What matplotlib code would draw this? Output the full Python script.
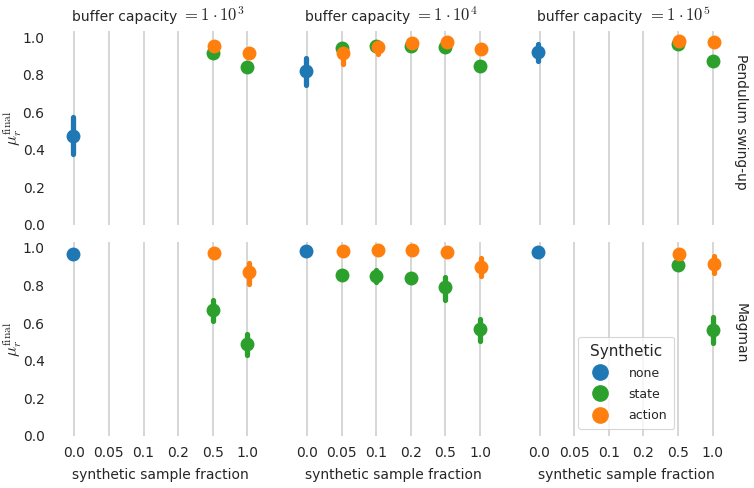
import numpy as np
import matplotlib
matplotlib.use("Agg")
import matplotlib.pyplot as plt
from matplotlib.lines import Line2D

nan = np.nan

fractions = ["0.0", "0.05", "0.1", "0.2", "0.5", "1.0"]
buffers = [3, 4, 5]
envs = ["Pendulum swing-up", "Magman"]
hues = ["none", "state", "action"]
colors = {"none": "#1f77b4", "state": "#2ca02c", "action": "#ff7f0e"}

# rows: buffer 1e3, 1e4, 1e5 ; columns: fractions
pend_none = [[0.473, nan, nan, nan, nan, nan],
             [0.821, nan, nan, nan, nan, nan],
             [0.922, nan, nan, nan, nan, nan]]
pend_none_lo = [[0.375, nan, nan, nan, nan, nan],
                [0.745, nan, nan, nan, nan, nan],
                [0.870, nan, nan, nan, nan, nan]]
pend_none_hi = [[0.572, nan, nan, nan, nan, nan],
                [0.890, nan, nan, nan, nan, nan],
                [0.963, nan, nan, nan, nan, nan]]

pend_state = [[nan, nan, nan, nan, 0.913, 0.842],
              [nan, 0.940, 0.954, 0.952, 0.945, 0.847],
              [nan, nan, nan, nan, 0.963, 0.874]]
pend_state_lo = [[nan, nan, nan, nan, 0.900, 0.830],
                 [nan, 0.925, 0.940, 0.940, 0.930, 0.835],
                 [nan, nan, nan, nan, 0.950, 0.862]]
pend_state_hi = [[nan, nan, nan, nan, 0.925, 0.855],
                 [nan, 0.955, 0.965, 0.962, 0.958, 0.858],
                 [nan, nan, nan, nan, 0.975, 0.885]]

pend_action = [[nan, nan, nan, nan, 0.952, 0.913],
               [nan, 0.913, 0.947, 0.970, 0.973, 0.934],
               [nan, nan, nan, nan, 0.980, 0.972]]
pend_action_lo = [[nan, nan, nan, nan, 0.940, 0.900],
                  [nan, 0.855, 0.910, 0.958, 0.962, 0.922],
                  [nan, nan, nan, nan, 0.970, 0.962]]
pend_action_hi = [[nan, nan, nan, nan, 0.962, 0.925],
                  [nan, 0.950, 0.970, 0.980, 0.983, 0.945],
                  [nan, nan, nan, nan, 0.988, 0.982]]

mag_none = [[0.968, nan, nan, nan, nan, nan],
            [0.982, nan, nan, nan, nan, nan],
            [0.977, nan, nan, nan, nan, nan]]
mag_none_lo = [[0.960, nan, nan, nan, nan, nan],
               [0.975, nan, nan, nan, nan, nan],
               [0.970, nan, nan, nan, nan, nan]]
mag_none_hi = [[0.976, nan, nan, nan, nan, nan],
               [0.989, nan, nan, nan, nan, nan],
               [0.984, nan, nan, nan, nan, nan]]

mag_state = [[nan, nan, nan, nan, 0.670, 0.489],
             [nan, 0.858, 0.853, 0.840, 0.791, 0.569],
             [nan, nan, nan, nan, 0.911, 0.565]]
mag_state_lo = [[nan, nan, nan, nan, 0.610, 0.430],
                [nan, 0.835, 0.820, 0.820, 0.725, 0.507],
                [nan, nan, nan, nan, 0.895, 0.495]]
mag_state_hi = [[nan, nan, nan, nan, 0.725, 0.544],
                [nan, 0.878, 0.880, 0.858, 0.844, 0.624],
                [nan, nan, nan, nan, 0.925, 0.633]]

mag_action = [[nan, nan, nan, nan, 0.975, 0.871],
              [nan, 0.982, 0.991, 0.988, 0.979, 0.897],
              [nan, nan, nan, nan, 0.970, 0.917]]
mag_action_lo = [[nan, nan, nan, nan, 0.965, 0.810],
                 [nan, 0.972, 0.982, 0.978, 0.968, 0.850],
                 [nan, nan, nan, nan, 0.960, 0.867]]
mag_action_hi = [[nan, nan, nan, nan, 0.985, 0.920],
                 [nan, 0.990, 0.998, 0.996, 0.988, 0.947],
                 [nan, nan, nan, nan, 0.980, 0.956]]

data = {
    "Pendulum swing-up": {
        "none": (pend_none, pend_none_lo, pend_none_hi),
        "state": (pend_state, pend_state_lo, pend_state_hi),
        "action": (pend_action, pend_action_lo, pend_action_hi),
    },
    "Magman": {
        "none": (mag_none, mag_none_lo, mag_none_hi),
        "state": (mag_state, mag_state_lo, mag_state_hi),
        "action": (mag_action, mag_action_lo, mag_action_hi),
    },
}

plt.rcParams["mathtext.fontset"] = "cm"
plt.rcParams["font.family"] = "DejaVu Sans"
text_c = "#262626"
plt.rcParams["text.color"] = text_c
plt.rcParams["axes.labelcolor"] = text_c
plt.rcParams["xtick.color"] = text_c
plt.rcParams["ytick.color"] = text_c

fig, axes = plt.subplots(2, 3, figsize=(7.54, 4.88), dpi=100, sharey=True)
fig.subplots_adjust(left=0.0756, right=0.968, top=0.9357, bottom=0.107,
                    wspace=0.12, hspace=0.09)

x = np.arange(len(fractions))
offsets = {"none": -0.04, "state": 0.0, "action": 0.04}

for r, env in enumerate(envs):
    for c, b in enumerate(buffers):
        ax = axes[r, c]
        for h in hues:
            m, lo, hi = (np.array(a[c]) for a in data[env][h])
            xs = x + offsets[h]
            ax.vlines(xs, lo, hi, color=colors[h], lw=3.8, capstyle="round", zorder=3)
            ax.plot(xs, m, "o", color=colors[h], ms=9, zorder=4)
        ax.set_xlim(-0.5, len(fractions) - 0.5)
        ax.set_ylim(0, 1.03)
        ax.set_xticks(x)
        ax.set_yticks([0, 0.2, 0.4, 0.6, 0.8, 1.0])
        ax.grid(axis="x", color="#cccccc", lw=1.1)
        ax.set_axisbelow(True)
        for s in ax.spines.values():
            s.set_visible(False)
        ax.tick_params(length=0, labelsize=10)
        ax.tick_params(axis="y", pad=9)
        ax.tick_params(axis="x", pad=7)
        if r == 0:
            ax.text(0.58, 1.052, "buffer capacity", transform=ax.transAxes,
                    ha="right", va="baseline", fontsize=10)
            ax.text(0.604, 1.052, r"$= 1 \cdot 10^{%d}$" % b, transform=ax.transAxes,
                    ha="left", va="baseline", fontsize=12)
            ax.tick_params(labelbottom=False)
        else:
            ax.set_xticklabels(fractions)
            ax.set_xlabel("synthetic sample fraction", fontsize=10, labelpad=6)
        if c == 0:
            ax.set_ylabel(r"$\mu_r^{\mathrm{final}}$", fontsize=12)
            ax.yaxis.set_label_coords(-0.16, 0.5)
        if c == 2:
            ax.text(1.02, 0.53, env, transform=ax.transAxes, rotation=270,
                    ha="left", va="center", fontsize=10)

handles = [Line2D([], [], marker="o", ls="", color=colors[h], ms=11) for h in hues]
leg = axes[1, 2].legend(handles, hues, title="Synthetic", loc="lower left",
                        bbox_to_anchor=(0.269, 0.036), borderaxespad=0,
                        fontsize=9, title_fontsize=11,
                        frameon=True, edgecolor="#cccccc", handlelength=2.4,
                        handletextpad=1.1, borderpad=0.55, labelspacing=0.65)
leg.get_frame().set_linewidth(0.8)

fig.savefig("out.png", dpi=100)
